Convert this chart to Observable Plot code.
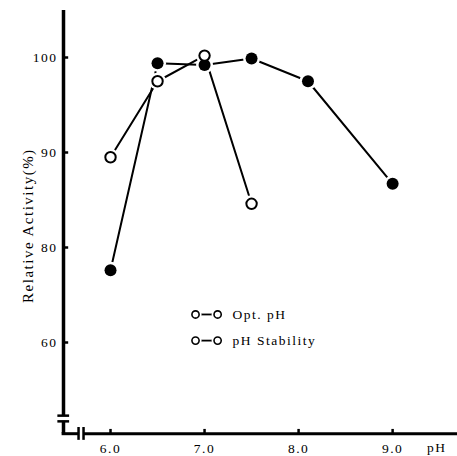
<!DOCTYPE html>
<html><head><meta charset="utf-8">
<script src="https://cdn.jsdelivr.net/npm/d3@7"></script>
<script src="https://cdn.jsdelivr.net/npm/@observablehq/plot@0.6"></script>
<style>body{margin:0;background:#fff} svg{display:block}</style>
</head><body><div id="chart"></div>
<script>
// Data
const phOpt = [6.0, 6.5, 7.0, 7.5];
const actOpt = [89.5, 97.5, 100.2, 84.6];
const phStab = [6.0, 6.5, 7.0, 7.5, 8.1, 9.0];
const actStab = [75.2, 99.4, 99.2, 99.9, 97.5, 86.7];
const xTicks = [6, 7, 8, 9];
const yTicks = [60, 80, 90, 100];
const legendLabels = ["Opt. pH", "pH Stability"];
const xLabel = "pH";
const yLabel = "Relative Activity(%)";

// The original y axis places its (unevenly valued) ticks at equal spacing:
// warp maps a value to its position in tick units (piecewise linear).
const warp = d3.scaleLinear().domain(yTicks).range(yTicks.map((_, i) => i));

const opt = phOpt.map((x, i) => ({x, y: actOpt[i]}));
const stab = phStab.map((x, i) => ({x, y: actStab[i]}));

// axis geometry (data units)
const xAxisAt = 5.5, yAxisAt = 40.8, yTop = 104.95, xEnd = 9.69;
const yBreak = [44.6, 43.4], xBreak = [5.66, 5.713];
const legendY = [65.9, 60.4];
const legendRows = legendLabels.map((t, i) => ({t, y: legendY[i]}));

const font = "Liberation Serif, Times New Roman, serif";
const W = d => warp(d);

const chart = Plot.plot({
  width: 457, height: 456,
  marginTop: 0, marginRight: 0, marginBottom: 0, marginLeft: 0,
  x: {domain: [4.83, 9.69], axis: null},
  y: {domain: [-1.2, 3.6], axis: null},
  style: {fontFamily: font, fontSize: "13px", color: "black", background: "white", letterSpacing: "1.5px"},
  marks: [
    // y axis with break
    Plot.ruleX([xAxisAt], {y1: W(yBreak[0]), y2: W(yTop), strokeWidth: 3.5, stroke: "black"}),
    Plot.ruleX([xAxisAt], {y1: W(yAxisAt), y2: W(yBreak[1]), strokeWidth: 3.5, stroke: "black"}),
    Plot.ruleY(yBreak, {y: W, x1: 5.44, x2: 5.565, strokeWidth: 2.5, stroke: "black"}),
    // x axis with break
    Plot.ruleY([yAxisAt], {y: W, x1: xAxisAt - 0.015, x2: xBreak[0], strokeWidth: 3, stroke: "black"}),
    Plot.ruleY([yAxisAt], {y: W, x1: xBreak[1], x2: xEnd, strokeWidth: 3, stroke: "black"}),
    Plot.ruleX(xBreak, {y1: W(42.1), y2: W(39.4), strokeWidth: 2.5, stroke: "black"}),
    // ticks (inward)
    Plot.ruleY(yTicks, {y: W, x1: xAxisAt, x2: xAxisAt + 0.055, strokeWidth: 2.5, stroke: "black"}),
    Plot.ruleX(xTicks, {x: d => d, y1: W(yAxisAt), y2: W(yAxisAt) + 0.045, strokeWidth: 2.5, stroke: "black"}),
    // tick labels
    Plot.text(yTicks, {x: xAxisAt, y: W, text: d => String(d), textAnchor: "end", dx: -6, fontSize: 13.5, fill: "black"}),
    Plot.text(xTicks, {x: d => d, y: W(yAxisAt), text: d => d.toFixed(1), dy: 15, fontSize: 13.5, fill: "black"}),
    Plot.text([xLabel], {x: 9.47, y: W(yAxisAt), text: d => d, dy: 14, fontSize: 13.5, fill: "black"}),
    Plot.text([yLabel], {x: 5.12, y: W(82.3), text: d => d, rotate: -90, fontSize: 15, fill: "black"}),
    // series lines
    Plot.line(opt, {x: "x", y: d => W(d.y), stroke: "black", strokeWidth: 2}),
    Plot.line(stab, {x: "x", y: d => W(d.y), stroke: "black", strokeWidth: 2}),
    // white halos to create gaps at markers
    Plot.dot(stab, {x: "x", y: d => W(d.y), r: 8.5, fill: "white"}),
    Plot.dot(opt, {x: "x", y: d => W(d.y), r: 8.5, fill: "white"}),
    Plot.dot(stab, {x: "x", y: d => W(d.y), r: 6, fill: "black"}),
    Plot.dot(opt, {x: "x", y: d => W(d.y), r: 5.2, fill: "white", stroke: "black", strokeWidth: 2}),
    // legend
    Plot.ruleY(legendRows, {y: d => W(d.y), x1: 6.904, x2: 7.139, stroke: "black", strokeWidth: 1.8}),
    Plot.dot(legendRows, {x: 6.904, y: d => W(d.y), r: 6, fill: "white"}),
    Plot.dot(legendRows, {x: 7.139, y: d => W(d.y), r: 6, fill: "white"}),
    Plot.dot(legendRows, {x: 6.904, y: d => W(d.y), r: 3.6, fill: "white", stroke: "black", strokeWidth: 1.6}),
    Plot.dot(legendRows, {x: 7.139, y: d => W(d.y), r: 3.6, fill: "white", stroke: "black", strokeWidth: 1.6}),
    Plot.text(legendRows, {x: 7.298, y: d => W(d.y), text: "t", textAnchor: "start", fontSize: 13.5, fill: "black"})
  ]
});
document.getElementById("chart").appendChild(chart);
</script>
</body></html>
